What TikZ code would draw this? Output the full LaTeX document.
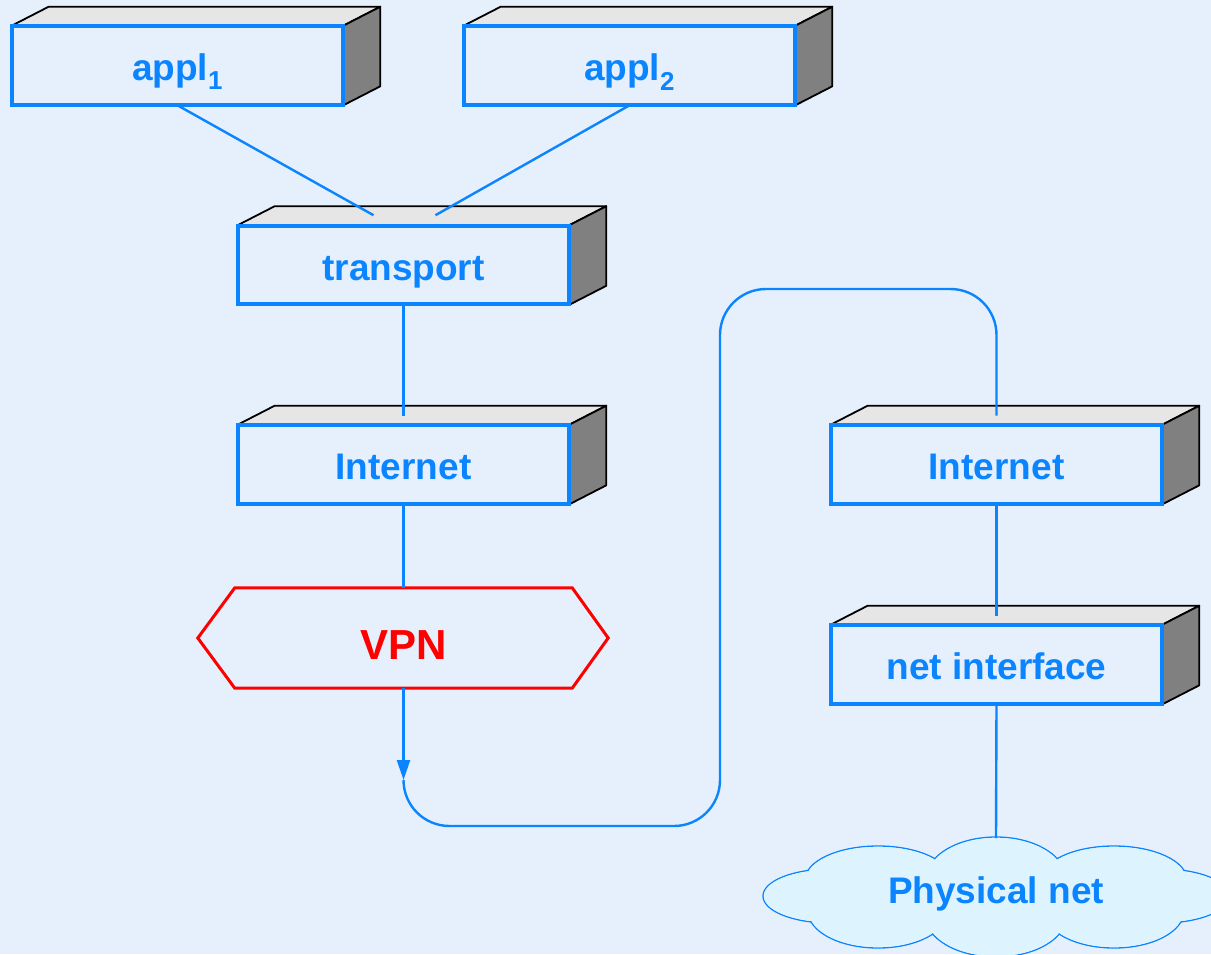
\documentclass[tikz,border=0pt]{standalone}
\usepackage{fontspec}
\setmainfont{Liberation Sans}
\usetikzlibrary{calc,arrows.meta}
\definecolor{bg}{RGB}{230,240,252}
\definecolor{lblue}{RGB}{10,132,255}
\definecolor{topgray}{RGB}{230,230,230}
\definecolor{sidegray}{RGB}{128,128,128}
\definecolor{cloudfill}{RGB}{221,244,254}
\tikzset{
  layerbox/.style={rectangle, draw=lblue, line width=2.6pt, fill=bg, minimum width=329pt, minimum height=77pt, inner sep=0pt,
    text=lblue, font=\fontsize{37}{40}\selectfont\bfseries, text height=30pt, text depth=0pt},
  topface/.style={fill=topgray, draw=black, line width=1.8pt, line join=round},
  sideface/.style={fill=sidegray, draw=black, line width=1.8pt, line join=round},
  frontline/.style={draw=lblue, line width=2.6pt},
  conn/.style={draw=lblue, line width=2.4pt},
  vpnbox/.style={rectangle, inner sep=0pt, minimum width=337pt, minimum height=100pt, text=red,
    font=\fontsize{42}{46}\selectfont\bfseries, text height=43pt, text depth=0pt},
  vpnline/.style={draw=red, line width=3pt, line join=miter},
  puffline/.style={draw=lblue, line width=1.3pt, fill=cloudfill},
  pufffill/.style={fill=cloudfill},
  cloudtext/.style={inner sep=0pt, text=lblue, font=\fontsize{37}{40}\selectfont\bfseries}
}
\begin{document}
\begin{tikzpicture}[x=1pt,y=-1pt]
\useasboundingbox (0,0) rectangle (1211,954);
\clip (0,0) rectangle (1211,954);
\fill[bg] (0,0) rectangle (1211,954);

\node[layerbox] (a1) at (177.5,65.5) {appl\textsubscript{1}};
\node[layerbox] (a2) at (629.5,65.5) {appl\textsubscript{2}};
\node[layerbox] (tr) at (403.5,265) {transport};
\node[layerbox] (inL) at (403.5,464.5) {Internet};
\node[layerbox] (inR) at (996.5,464.5) {Internet};
\node[layerbox] (ni) at (996.5,664.5) {net interface};

\foreach \n in {a1,a2,tr,inL,inR,ni}{
  \filldraw[topface] (\n.north west) -- ++(37,-19) -- ([shift={(37,-19)}]\n.north east) -- (\n.north east) -- cycle;
  \filldraw[sideface] (\n.north east) -- ++(37,-19) -- ([shift={(37,-19)}]\n.south east) -- (\n.south east) -- cycle;
  \draw[frontline] (\n.north west) rectangle (\n.south east);
}

\node[vpnbox] (vpn) at (403.5,638) {VPN};
\draw[vpnline] (vpn.north west) -- (vpn.north east) -- ($(vpn.east)+(36,0)$) -- (vpn.south east)
  -- (vpn.south west) -- ($(vpn.west)+(-37,0)$) -- cycle;

% cloud: union of ellipses
\foreach \cx/\cy/\rx/\ry in {878/880/73/34, 996/879/70/42, 1114/880/73/34,
    830/896/67/27, 1162/896/67/27,
    878/911/70/37, 996/915/71/42, 1114/911/70/37}{
  \filldraw[puffline] (\cx,\cy) ellipse [x radius=\rx, y radius=\ry];
}
\foreach \cx/\cy/\rx/\ry in {878/880/73/34, 996/879/70/42, 1114/880/73/34,
    830/896/67/27, 1162/896/67/27,
    878/911/70/37, 996/915/71/42, 1114/911/70/37}{
  \fill[pufffill] (\cx,\cy) ellipse [x radius=\rx-0.9, y radius=\ry-0.9];
}
\node[cloudtext] (pn) at (996,894) {Physical net};
\coordinate (cloudtop) at (996,838);

% connectors
\coordinate (trA) at ($(tr.north)+(-30,-10)$);
\coordinate (trB) at ($(tr.north)+(32,-10)$);
\draw[conn] (a1.south) -- (trA);
\draw[conn] (a2.south) -- (trB);
\draw[conn] (tr.south) -- ($(inL.north)+(0,-9)$);
\draw[conn] (inL.south) -- (vpn.north);
\coordinate (c1) at (403.5,780);
\coordinate (b) at (720,826);
\coordinate (t) at (720,289);
\coordinate (inRtop) at ($(inR.north)+(0,-9)$);
\draw[conn,-{Triangle[length=20pt,width=13pt]}] (vpn.south) -- (c1);
\draw[conn, rounded corners=46pt] (c1) |- (b) -- (t) -| (inRtop);
\draw[conn] (inR.south) -- ($(ni.north)+(0,-9)$);
\draw[conn] (ni.south) -- (cloudtop);
\end{tikzpicture}
\end{document}
